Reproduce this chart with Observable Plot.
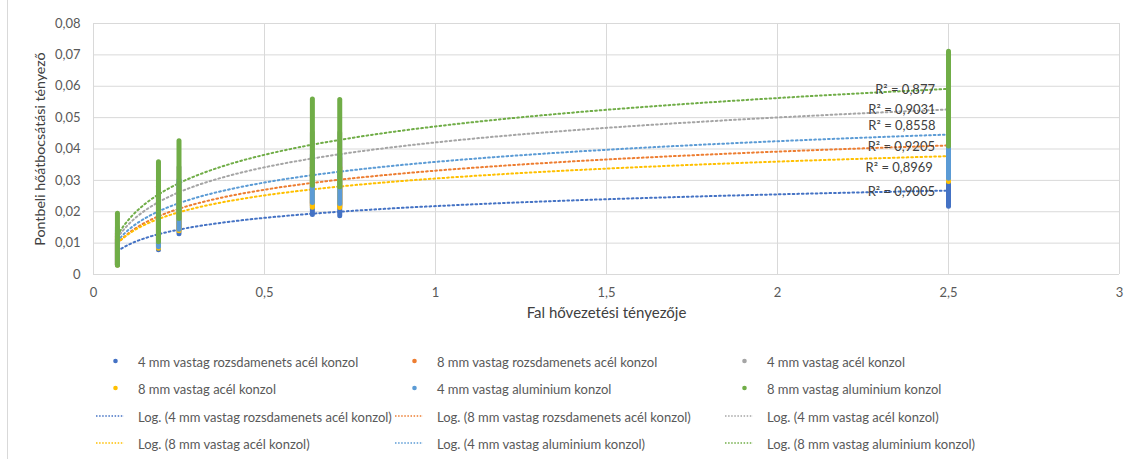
<!DOCTYPE html>
<html>
<head>
<meta charset="utf-8">
<script src="https://cdn.jsdelivr.net/npm/d3@7"></script>
<script src="https://cdn.jsdelivr.net/npm/@observablehq/plot@0.6"></script>
<style>
  body { margin: 0; background: #fff; font-family: Lato, "Noto Sans", sans-serif; }
  #wrap { position: relative; width: 1132px; height: 459px; overflow: hidden; }
  #border { position: absolute; left: 7px; top: 0; width: 1px; height: 459px; background: #d9d9d9; }
  #chart { position: absolute; left: 0; top: 0; }
  .li { position: absolute; font-size: 13px; color: #595959; white-space: nowrap; line-height: 16px; }
  .mk { position: absolute; }
</style>
</head>
<body>
<div id="wrap"><div id="border"></div><div id="chart"></div><div id="legend"></div></div>
<script>
// ---- data ----
const seriesNames = [
  "4 mm vastag rozsdamenets acél konzol",
  "8 mm vastag rozsdamenets acél konzol",
  "4 mm vastag acél konzol",
  "8 mm vastag acél konzol",
  "4 mm vastag aluminium konzol",
  "8 mm vastag aluminium konzol"
];
const seriesColors = ["#4472C4", "#ED7D31", "#A5A5A5", "#FFC000", "#5B9BD5", "#70AD47"];
const wallConductivity = [0.07, 0.19, 0.25, 0.64, 0.72, 2.5];
// min / max of each vertical point cloud, per series, per wall conductivity
const minS1 = [0.0029, 0.0077, 0.0128, 0.0190, 0.0186, 0.0216];
const maxS1 = [0.0110, 0.0180, 0.0220, 0.0280, 0.0280, 0.0320];
const minS2 = [0.0030, 0.0088, 0.0143, 0.0218, 0.0217, 0.0300];
const maxS2 = [0.0130, 0.0240, 0.0290, 0.0370, 0.0370, 0.0470];
const minS3 = [0.0030, 0.0092, 0.0148, 0.0223, 0.0222, 0.0305];
const maxS3 = [0.0150, 0.0280, 0.0340, 0.0450, 0.0450, 0.0580];
const minS4 = [0.0029, 0.0082, 0.0138, 0.0213, 0.0212, 0.0295];
const maxS4 = [0.0120, 0.0220, 0.0270, 0.0340, 0.0340, 0.0420];
const minS5 = [0.0030, 0.0087, 0.0143, 0.0228, 0.0225, 0.0305];
const maxS5 = [0.0140, 0.0250, 0.0300, 0.0380, 0.0380, 0.0460];
const minS6 = [0.0028, 0.0103, 0.0177, 0.0283, 0.0278, 0.0408];
const maxS6 = [0.0194, 0.0358, 0.0425, 0.0558, 0.0556, 0.0710];
// logarithmic trendline y = a*ln(x) + b, and R² values
const trendA = [0.0054, 0.00876, 0.01146, 0.00777, 0.0095, 0.01305];
const trendB = [0.0218, 0.0331, 0.0421, 0.0306, 0.0359, 0.0472];
const rSquared = ["0,9005", "0,9205", "0,9031", "0,8969", "0,8558", "0,877"];
const rLabelX = [2.362, 2.362, 2.364, 2.356, 2.364, 2.373];
const rLabelY = [0.02643, 0.04076, 0.05245, 0.03385, 0.04745, 0.0588];
const xTicks = [0, 0.5, 1, 1.5, 2, 2.5, 3];
const yTicks = [0, 0.01, 0.02, 0.03, 0.04, 0.05, 0.06, 0.07, 0.08];
const xTitle = "Fal hővezetési tényezője";
const yTitle = "Pontbeli hőátbocsátási tényező";

// ---- build tables ----
const mins = [minS1, minS2, minS3, minS4, minS5, minS6];
const maxs = [maxS1, maxS2, maxS3, maxS4, maxS5, maxS6];
const clouds = [];
seriesNames.forEach((s, i) => wallConductivity.forEach((x, j) =>
  clouds.push({series: s, x, y1: mins[i][j], y2: maxs[i][j]})));
const xs = d3.range(0.07, 2.5001, 0.01);
const trends = [];
seriesNames.forEach((s, i) => xs.forEach(x => trends.push({series: s, x, y: trendA[i] * Math.log(x) + trendB[i]})));
const labels = rSquared.map((r, i) => ({text: "R² = " + r, x: rLabelX[i], y: rLabelY[i]}));

const comma = d => d === 0 ? "0" : String(d).replace(".", ",");
const commaY = d => d === 0 ? "0" : d.toFixed(2).replace(".", ",");

const chart = Plot.plot({
  width: 1132,
  height: 330,
  marginLeft: 93,
  marginRight: 13,
  marginTop: 23,
  marginBottom: 56,
  style: {fontFamily: "Lato, 'Noto Sans', sans-serif", fontSize: "13px", color: "#595959", background: "transparent"},
  x: {domain: [0, 3]},
  y: {domain: [0, 0.08]},
  color: {domain: seriesNames, range: seriesColors},
  marks: [
    Plot.gridX(xTicks, {stroke: "#d9d9d9", strokeOpacity: 1}),
    Plot.gridY(yTicks, {stroke: "#d9d9d9", strokeOpacity: 1}),
    Plot.axisX(xTicks, {tickSize: 0, tickPadding: 13, tickFormat: comma, label: null, fill: "#595959"}),
    Plot.axisY(yTicks, {tickSize: 0, tickPadding: 13, tickFormat: commaY, label: null, fill: "#595959"}),
    Plot.line(trends, {x: "x", y: "y", z: "series", stroke: "series", strokeWidth: 2, strokeDasharray: "1.7,2.9"}),
    Plot.ruleX(clouds, {x: "x", y1: "y1", y2: "y2", stroke: "series", strokeWidth: 5, strokeLinecap: "round"}),
    Plot.text(labels, {x: "x", y: "y", text: "text", fill: "#404040", fontSize: 13}),
    Plot.text([xTitle], {frameAnchor: "bottom", textAnchor: "middle", dy: 43, fill: "#404040", fontSize: 15}),
    Plot.text([yTitle], {frameAnchor: "left", textAnchor: "middle", dx: -53, rotate: -90, fill: "#404040", fontSize: 14.2})
  ]
});
document.getElementById("chart").appendChild(chart);

// ---- legend ----
const legend = document.getElementById("legend");
const colText = [138, 437, 767];
const rowY = [361, 388, 416, 443];
const items = [];
seriesNames.forEach((s, i) => items.push({label: s, color: seriesColors[i], type: "dot"}));
seriesNames.forEach((s, i) => items.push({label: "Log. (" + s + ")", color: seriesColors[i], type: "line"}));
items.forEach((it, k) => {
  const r = Math.floor(k / 3), c = k % 3;
  const tx = colText[c], cy = rowY[r];
  const t = document.createElement("div");
  t.className = "li";
  t.style.left = tx + "px";
  t.style.top = (cy - 7) + "px";
  t.textContent = it.label;
  legend.appendChild(t);
  const svgNS = "http://www.w3.org/2000/svg";
  const svg = document.createElementNS(svgNS, "svg");
  svg.setAttribute("class", "mk");
  svg.setAttribute("width", 40);
  svg.setAttribute("height", 10);
  svg.style.left = (tx - 44) + "px";
  svg.style.top = (cy - 5) + "px";
  if (it.type === "dot") {
    const ci = document.createElementNS(svgNS, "circle");
    ci.setAttribute("cx", 21.5); ci.setAttribute("cy", 5); ci.setAttribute("r", 2.3);
    ci.setAttribute("fill", it.color);
    svg.appendChild(ci);
  } else {
    const ln = document.createElementNS(svgNS, "line");
    ln.setAttribute("x1", 2); ln.setAttribute("x2", 30); ln.setAttribute("y1", 5); ln.setAttribute("y2", 5);
    ln.setAttribute("stroke", it.color); ln.setAttribute("stroke-width", 1.5);
    ln.setAttribute("stroke-dasharray", "1.5,1.6");
    svg.appendChild(ln);
  }
  legend.appendChild(svg);
});
</script>
</body>
</html>
